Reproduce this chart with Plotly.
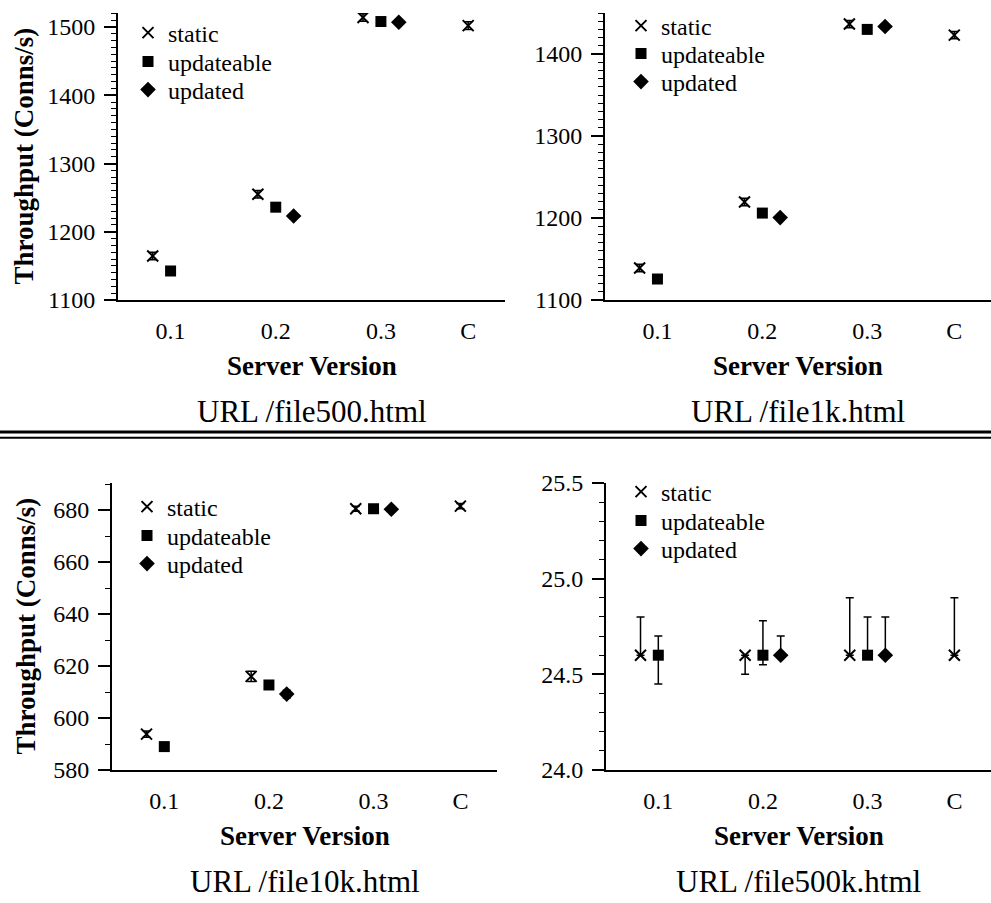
import plotly.graph_objects as go

W, H = 991, 903

# ---------------- data ----------------
versions = ["0.1", "0.2", "0.3", "C"]
series_names = ["static", "updateable", "updated"]

# panel 1: URL /file500.html
p1_static = [1164.5, 1255, 1514, 1502]
p1_static_err = [5.5, 5.5, 5.5, 5.5]
p1_updateable = [1142.5, 1236, 1508]
p1_updated = [1223, 1507]

# panel 2: URL /file1k.html
p2_static = [1139, 1219.5, 1436.5, 1423]
p2_static_err = [4.5, 4.5, 4.5, 4.5]
p2_updateable = [1125.6, 1206, 1430]
p2_updated = [1200.5, 1433.5]

# panel 3: URL /file10k.html
p3_static = [593.8, 616.0, 680.5, 681.5]
p3_static_err = [1.2, 2.0, 1.0, 1.0]
p3_updateable = [589.0, 612.7, 680.5]
p3_updateable_err = [0.0, 1.5, 0.0]
p3_updated = [609.2, 680.3]
p3_updated_err = [1.5, 0.8]

# panel 4: URL /file500k.html
p4_static = [24.6, 24.6, 24.6, 24.6]
p4_static_plus = [0.2, 0.0, 0.3, 0.3]
p4_static_minus = [0.0, 0.1, 0.0, 0.0]
p4_updateable = [24.6, 24.6, 24.6]
p4_updateable_plus = [0.1, 0.18, 0.2]
p4_updateable_minus = [0.15, 0.05, 0.0]
p4_updated = [24.6, 24.6]
p4_updated_plus = [0.1, 0.2]
p4_updated_minus = [0.0, 0.0]

urls = ["URL /file500.html", "URL /file1k.html", "URL /file10k.html", "URL /file500k.html"]
y_ranges = [[1100, 1520.5], [1100, 1450], [580, 690.4], [24.0, 25.5]]
y_dticks = [100, 100, 20, 0.5]
y_minor = [10, 10, 10, 0.1]
y_formats = ["d", "d", "d", ".1f"]

# positions of version groups on numeric axis
base_pos = [1, 2, 3, 4]
offset = {"static": -0.17, "updateable": 0.0, "updated": 0.17}
tick_pos = [1, 2, 3, 4 - 0.17]

# ---------------- layout geometry (pixels) ----------------
panels = [
    dict(x0=118, x1=505, y0=13, y1=300, legx=128, legy=[33, 62, 90]),
    dict(x0=605, x1=991, y0=13, y1=300, legx=621, legy=[26, 54, 82]),
    dict(x0=112, x1=497, y0=483, y1=770, legx=127, legy=[507, 536, 564]),
    dict(x0=606, x1=991, y0=483, y1=770, legx=621, legy=[492, 521, 549]),
]

FONT = "Liberation Serif, Times New Roman, serif"


def px(x):
    return x / W


def py(y):
    return 1 - y / H


fig = go.Figure()


def add_series(k, name, idxs, vals, plus=None, minus=None, symbol="square"):
    xs = [base_pos[i] + offset[name] for i in idxs]
    marker = dict(color="black", size=11, symbol=symbol)
    if symbol == "x-thin":
        marker = dict(color="black", size=11, symbol="x-thin",
                      line=dict(color="black", width=2))
    if symbol == "diamond":
        marker["size"] = 12
    err = None
    if plus is not None:
        err = dict(type="data", symmetric=False, array=plus,
                   arrayminus=minus if minus is not None else plus,
                   color="black", thickness=1.5, width=4)
    sfx = "" if k == 0 else str(k + 1)
    leg_idx = k * 3 + series_names.index(name) + 1
    leg_name = "legend" if leg_idx == 1 else "legend%d" % leg_idx
    fig.add_trace(go.Scatter(
        x=xs, y=vals, mode="markers", name=name, marker=marker,
        error_y=err, xaxis="x" + sfx, yaxis="y" + sfx,
        legend=leg_name, showlegend=True,
    ))


# panel 1
add_series(0, "static", [0, 1, 2, 3], p1_static, p1_static_err, p1_static_err, "x-thin")
add_series(0, "updateable", [0, 1, 2], p1_updateable, symbol="square")
add_series(0, "updated", [1, 2], p1_updated, symbol="diamond")
# panel 2
add_series(1, "static", [0, 1, 2, 3], p2_static, p2_static_err, p2_static_err, "x-thin")
add_series(1, "updateable", [0, 1, 2], p2_updateable, symbol="square")
add_series(1, "updated", [1, 2], p2_updated, symbol="diamond")
# panel 3
add_series(2, "static", [0, 1, 2, 3], p3_static, p3_static_err, p3_static_err, "x-thin")
add_series(2, "updateable", [0, 1, 2], p3_updateable, p3_updateable_err, p3_updateable_err, "square")
add_series(2, "updated", [1, 2], p3_updated, p3_updated_err, p3_updated_err, "diamond")
# panel 4
add_series(3, "static", [0, 1, 2, 3], p4_static, p4_static_plus, p4_static_minus, "x-thin")
add_series(3, "updateable", [0, 1, 2], p4_updateable, p4_updateable_plus, p4_updateable_minus, "square")
add_series(3, "updated", [1, 2], p4_updated, p4_updated_plus, p4_updated_minus, "diamond")

layout = dict(
    template="none",
    width=W, height=H, margin=dict(l=0, r=0, t=0, b=0, pad=0, autoexpand=False),
    paper_bgcolor="white", plot_bgcolor="white",
    font=dict(family=FONT, size=24, color="black"),
    showlegend=True,
)

annotations = []
for k, p in enumerate(panels):
    sfx = "" if k == 0 else str(k + 1)
    layout["xaxis" + sfx] = dict(
        domain=[px(p["x0"]), px(p["x1"])], anchor="y" + sfx,
        range=[0.5, 4.18], showline=True, linecolor="black", linewidth=2,
        showgrid=False, zeroline=False, ticks="", automargin=False,
        tickmode="array", tickvals=tick_pos, ticktext=versions,
        tickfont=dict(family=FONT, size=24, color="black"),
        ticklabelstandoff=8, fixedrange=True,
    )
    layout["yaxis" + sfx] = dict(
        domain=[py(p["y1"]), py(p["y0"])], anchor="x" + sfx,
        range=y_ranges[k], showline=True, linecolor="black", linewidth=2,
        showgrid=False, zeroline=False, ticks="outside", ticklen=12,
        tickwidth=1.5, tickcolor="black", dtick=y_dticks[k], tick0=0,
        tickformat=y_formats[k], automargin=False,
        minor=dict(dtick=y_minor[k], ticks="outside", ticklen=5,
                   tickwidth=1.2, tickcolor="black", showgrid=False),
        tickfont=dict(family=FONT, size=24, color="black"),
        ticklabelstandoff=4, fixedrange=True,
    )
    for j in range(3):
        leg_idx = k * 3 + j + 1
        leg_name = "legend" if leg_idx == 1 else "legend%d" % leg_idx
        layout[leg_name] = dict(
            x=px(p["legx"]), y=py(p["legy"][j]), xanchor="left", yanchor="middle",
            bgcolor="rgba(0,0,0,0)", borderwidth=0,
            font=dict(family=FONT, size=24, color="black"),
            itemclick=False, itemdoubleclick=False,
        )
    cx = (p["x0"] + p["x1"]) / 2
    annotations.append(dict(
        text="<b>Server Version</b>", x=px(cx), y=py(p["y1"] + 66),
        xref="paper", yref="paper", xanchor="center", yanchor="middle",
        showarrow=False, font=dict(family=FONT, size=27, color="black"),
    ))
    annotations.append(dict(
        text=urls[k], x=px(cx), y=py(p["y1"] + 111),
        xref="paper", yref="paper", xanchor="center", yanchor="middle",
        showarrow=False, font=dict(family=FONT, size=31, color="black"),
    ))

for k, xc in [(0, 23), (2, 25)]:
    p = panels[k]
    annotations.append(dict(
        text="<b>Throughput (Conns/s)</b>", x=px(xc), y=py((p["y0"] + p["y1"]) / 2),
        xref="paper", yref="paper", xanchor="center", yanchor="middle",
        textangle=-90, showarrow=False,
        font=dict(family=FONT, size=27, color="black"),
    ))

layout["annotations"] = annotations
layout["shapes"] = [
    dict(type="line", xref="paper", yref="paper", x0=0, x1=1,
         y0=py(432), y1=py(432), line=dict(color="black", width=3)),
    dict(type="line", xref="paper", yref="paper", x0=0, x1=1,
         y0=py(437.7), y1=py(437.7), line=dict(color="black", width=2)),
]

fig.update_layout(**layout)
fig.write_html("out.html", config={"displayModeBar": False})
